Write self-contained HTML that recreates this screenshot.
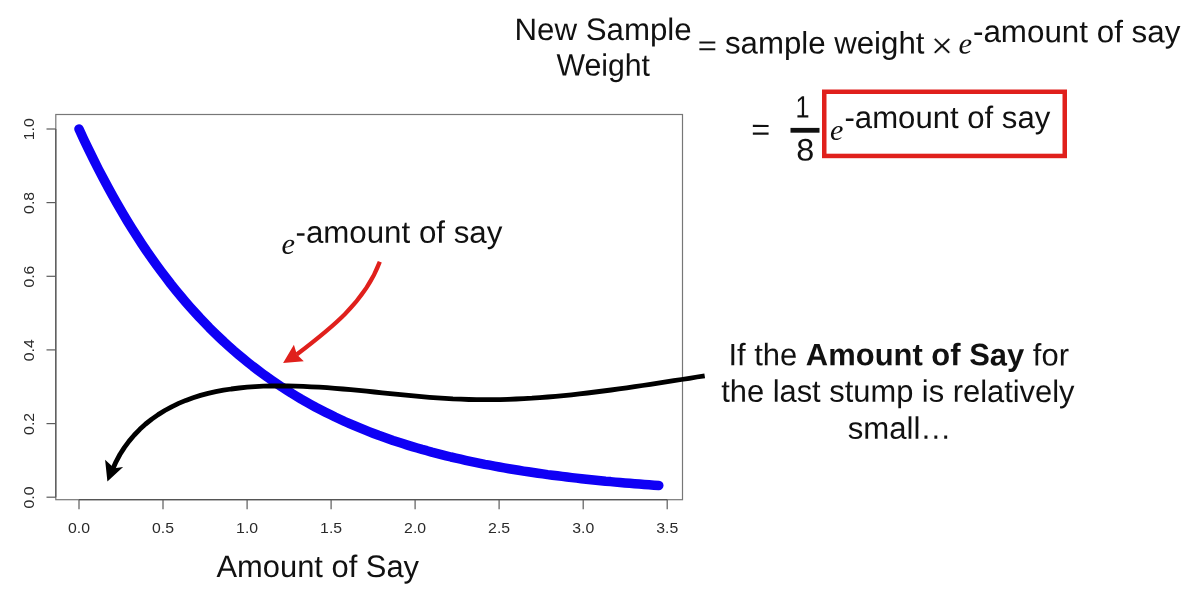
<!DOCTYPE html>
<html><head><meta charset="utf-8"><title>Amount of Say</title>
<style>
html,body{margin:0;padding:0;background:#fff;}
body{width:1194px;height:595px;overflow:hidden;font-family:"Liberation Sans",sans-serif;}
svg{display:block}
.ax line{stroke:#5c5c5c;stroke-width:1.2}
.ax text{font-family:"Liberation Sans",sans-serif;font-size:14.8px;fill:#2a2a2a}
.t{font-family:"Liberation Sans",sans-serif;fill:#111}
.e{font-family:"Liberation Serif",serif;font-style:italic;fill:#111}
</style></head><body>
<svg width="1194" height="595" viewBox="0 0 1194 595">
<rect width="1194" height="595" fill="#fff"/>
<g class="ax">
<rect x="55.8" y="114.5" width="626.7" height="385.2" fill="none" stroke="#777" stroke-width="1.2"/>
<line x1="79.0" y1="499.7" x2="667.2" y2="499.7" style="stroke:#555"/><line x1="55.8" y1="497.2" x2="55.8" y2="129.0" style="stroke:#555"/>
<line x1="79.0" y1="499.7" x2="79.0" y2="509.2"/><line x1="163.0" y1="499.7" x2="163.0" y2="509.2"/><line x1="247.1" y1="499.7" x2="247.1" y2="509.2"/><line x1="331.1" y1="499.7" x2="331.1" y2="509.2"/><line x1="415.1" y1="499.7" x2="415.1" y2="509.2"/><line x1="499.1" y1="499.7" x2="499.1" y2="509.2"/><line x1="583.2" y1="499.7" x2="583.2" y2="509.2"/><line x1="667.2" y1="499.7" x2="667.2" y2="509.2"/><line x1="46.5" y1="497.2" x2="55.8" y2="497.2"/><line x1="46.5" y1="423.6" x2="55.8" y2="423.6"/><line x1="46.5" y1="349.9" x2="55.8" y2="349.9"/><line x1="46.5" y1="276.3" x2="55.8" y2="276.3"/><line x1="46.5" y1="202.6" x2="55.8" y2="202.6"/><line x1="46.5" y1="129.0" x2="55.8" y2="129.0"/><text transform="translate(79.0,533.3) scale(1.07,1)" text-anchor="middle">0.0</text><text transform="translate(163.0,533.3) scale(1.07,1)" text-anchor="middle">0.5</text><text transform="translate(247.1,533.3) scale(1.07,1)" text-anchor="middle">1.0</text><text transform="translate(331.1,533.3) scale(1.07,1)" text-anchor="middle">1.5</text><text transform="translate(415.1,533.3) scale(1.07,1)" text-anchor="middle">2.0</text><text transform="translate(499.1,533.3) scale(1.07,1)" text-anchor="middle">2.5</text><text transform="translate(583.2,533.3) scale(1.07,1)" text-anchor="middle">3.0</text><text transform="translate(667.2,533.3) scale(1.07,1)" text-anchor="middle">3.5</text><text transform="translate(34,497.5) rotate(-90) scale(1.07,1)" text-anchor="middle">0.0</text><text transform="translate(34,423.9) rotate(-90) scale(1.07,1)" text-anchor="middle">0.2</text><text transform="translate(34,350.2) rotate(-90) scale(1.07,1)" text-anchor="middle">0.4</text><text transform="translate(34,276.6) rotate(-90) scale(1.07,1)" text-anchor="middle">0.6</text><text transform="translate(34,202.9) rotate(-90) scale(1.07,1)" text-anchor="middle">0.8</text><text transform="translate(34,129.3) rotate(-90) scale(1.07,1)" text-anchor="middle">1.0</text>
</g>
<path d="M79.0,129.0 L83.8,139.4 L88.7,149.6 L93.5,159.4 L98.3,169.0 L103.2,178.3 L108.0,187.3 L112.8,196.1 L117.7,204.7 L122.5,212.9 L127.3,221.0 L132.1,228.8 L137.0,236.4 L141.8,243.8 L146.6,251.0 L151.5,258.0 L156.3,264.8 L161.1,271.3 L166.0,277.7 L170.8,284.0 L175.6,290.0 L180.5,295.9 L185.3,301.6 L190.1,307.1 L195.0,312.5 L199.8,317.8 L204.6,322.8 L209.4,327.8 L214.3,332.6 L219.1,337.2 L223.9,341.8 L228.8,346.2 L233.6,350.5 L238.4,354.6 L243.3,358.7 L248.1,362.6 L252.9,366.4 L257.8,370.1 L262.6,373.7 L267.4,377.2 L272.3,380.6 L277.1,383.9 L281.9,387.1 L286.8,390.2 L291.6,393.3 L296.4,396.2 L301.2,399.1 L306.1,401.9 L310.9,404.6 L315.7,407.2 L320.6,409.7 L325.4,412.2 L330.2,414.6 L335.1,417.0 L339.9,419.2 L344.7,421.5 L349.6,423.6 L354.4,425.7 L359.2,427.7 L364.1,429.7 L368.9,431.6 L373.7,433.5 L378.5,435.3 L383.4,437.0 L388.2,438.7 L393.0,440.4 L397.9,442.0 L402.7,443.6 L407.5,445.1 L412.4,446.6 L417.2,448.0 L422.0,449.4 L426.9,450.7 L431.7,452.1 L436.5,453.3 L441.4,454.6 L446.2,455.8 L451.0,457.0 L455.9,458.1 L460.7,459.2 L465.5,460.3 L470.3,461.3 L475.2,462.3 L480.0,463.3 L484.8,464.3 L489.7,465.2 L494.5,466.1 L499.3,467.0 L504.2,467.9 L509.0,468.7 L513.8,469.5 L518.7,470.3 L523.5,471.1 L528.3,471.8 L533.2,472.5 L538.0,473.2 L542.8,473.9 L547.6,474.6 L552.5,475.2 L557.3,475.8 L562.1,476.4 L567.0,477.0 L571.8,477.6 L576.6,478.1 L581.5,478.7 L586.3,479.2 L591.1,479.7 L596.0,480.2 L600.8,480.7 L605.6,481.2 L610.5,481.6 L615.3,482.1 L620.1,482.5 L625.0,482.9 L629.8,483.3 L634.6,483.7 L639.4,484.1 L644.3,484.5 L649.1,484.8 L653.9,485.2 L658.8,485.5" fill="none" stroke="#0f00f5" stroke-width="9.5" stroke-linecap="round" stroke-linejoin="round"/>
<!-- black arrow -->
<path d="M704.7,375.8 L697.0,377.0 L689.3,378.3 L681.5,379.5 L673.8,380.7 L666.0,381.9 L658.2,383.1 L650.4,384.3 L642.5,385.5 L634.7,386.7 L626.8,387.8 L618.9,388.9 L611.1,390.0 L603.2,391.0 L595.3,392.0 L587.4,393.0 L579.5,393.9 L571.5,394.8 L563.6,395.6 L555.7,396.3 L547.8,397.0 L539.8,397.6 L531.9,398.2 L524.0,398.6 L516.1,399.0 L508.2,399.3 L500.2,399.6 L492.3,399.7 L484.4,399.7 L476.5,399.7 L468.7,399.5 L460.8,399.2 L452.9,398.9 L445.1,398.4 L437.2,397.9 L429.4,397.3 L421.5,396.6 L413.7,395.9 L405.8,395.2 L398.0,394.4 L390.1,393.6 L382.3,392.8 L374.4,392.0 L366.6,391.2 L358.7,390.4 L350.8,389.7 L342.9,389.0 L335.0,388.3 L327.1,387.7 L319.2,387.2 L311.2,386.8 L303.3,386.4 L295.3,386.1 L287.3,386.0 L279.3,385.9 L271.2,386.0 L263.2,386.2 L255.2,386.6 L247.2,387.2 L239.2,388.0 L231.3,389.0 L223.5,390.2 L215.7,391.7 L208.1,393.4 L200.5,395.4 L193.1,397.8 L185.8,400.4 L178.6,403.4 L171.6,406.8 L164.8,410.5 L158.2,414.6 L151.8,419.1 L145.6,424.0 L139.8,429.3 L134.3,435.0 L129.1,441.1 L124.3,447.6 L119.9,454.5 L116.0,461.8 L112.6,469.5" fill="none" stroke="#000" stroke-width="4.8" stroke-linecap="butt" stroke-linejoin="round"/>
<path d="M107.4,481.5 L105.1,459.8 L114.3,468.2 L123.1,467.1 Z" fill="#000"/>
<!-- red arrow -->
<path d="M379.8,261.8 C364.8,302.4 329.8,329.3 296.7,354.5" fill="none" stroke="#e0201c" stroke-width="4.2"/>
<path d="M283.1,362.9 L293.9,344.7 L296.9,354.4 L303.8,361.2 Z" fill="#e0201c"/>
<!-- labels -->
<text class="t" transform="translate(216.50,577.00) scale(0.9963,1.0000) rotate(0.04)" font-size="31">Amount of Say</text>
<text class="e" transform="translate(281.45,253.84) scale(1.0489,1.0286) rotate(0.04)" font-size="29">e</text>
<text class="t" transform="translate(295.49,242.70) scale(1.0093,1.0000) rotate(0.04)" font-size="31">-amount of say</text>
<text class="t" transform="translate(514.48,39.90) scale(1.0084,1.0000) rotate(0.04)" font-size="31">New Sample</text>
<text class="t" transform="translate(556.46,75.60) scale(0.9749,1.0000) rotate(0.04)" font-size="31">Weight</text>
<text class="t" transform="translate(697.71,54.77) scale(1.0600,0.8700) rotate(0.04)" font-size="31">=</text>
<text class="t" transform="translate(724.99,53.40) scale(1.0066,1.0000) rotate(0.04)" font-size="31">sample weight</text>
<text class="t" stroke="#fff" stroke-width="0.5" transform="translate(931.07,58.12) scale(1.2148,1.1782) rotate(0.04)" font-size="31">×</text>
<text class="e" transform="translate(958.54,53.54) scale(1.0578,1.0286) rotate(0.04)" font-size="29">e</text>
<text class="t" transform="translate(972.98,42.10) scale(1.0118,1.0000) rotate(0.04)" font-size="31">-amount of say</text>
<text class="t" transform="translate(751.33,139.75) scale(1.0467,0.9800) rotate(0.04)" font-size="31">=</text>
<text class="t" transform="translate(795.47,117.60) scale(0.8148,1.0000) rotate(0.04)" font-size="31">1</text>
<text class="t" transform="translate(796.29,160.60) scale(1.0441,1.0000) rotate(0.04)" font-size="31">8</text>
<text class="e" transform="translate(830.06,139.85) scale(1.0400,1.0071) rotate(0.04)" font-size="29">e</text>
<text class="t" transform="translate(844.49,127.90) scale(1.0044,1.0000) rotate(0.04)" font-size="31">-amount of say</text>
<text class="t" transform="translate(728.45,365.20) scale(0.9987,1.0000) rotate(0.04)" font-size="31">If the <tspan font-weight="bold">Amount of Say</tspan> for</text>
<text class="t" transform="translate(721.20,401.70) scale(0.9959,1.0000) rotate(0.04)" font-size="31">the last stump is relatively</text>
<text class="t" transform="translate(847.69,438.80) scale(1.0051,1.0000) rotate(0.04)" font-size="31">small…</text>
<rect x="790.5" y="127.9" width="29" height="4.8" fill="#111"/>
<rect x="824.25" y="91.75" width="240.5" height="64.2" fill="none" stroke="#e0201c" stroke-width="4.5"/>
</svg>
</body></html>
